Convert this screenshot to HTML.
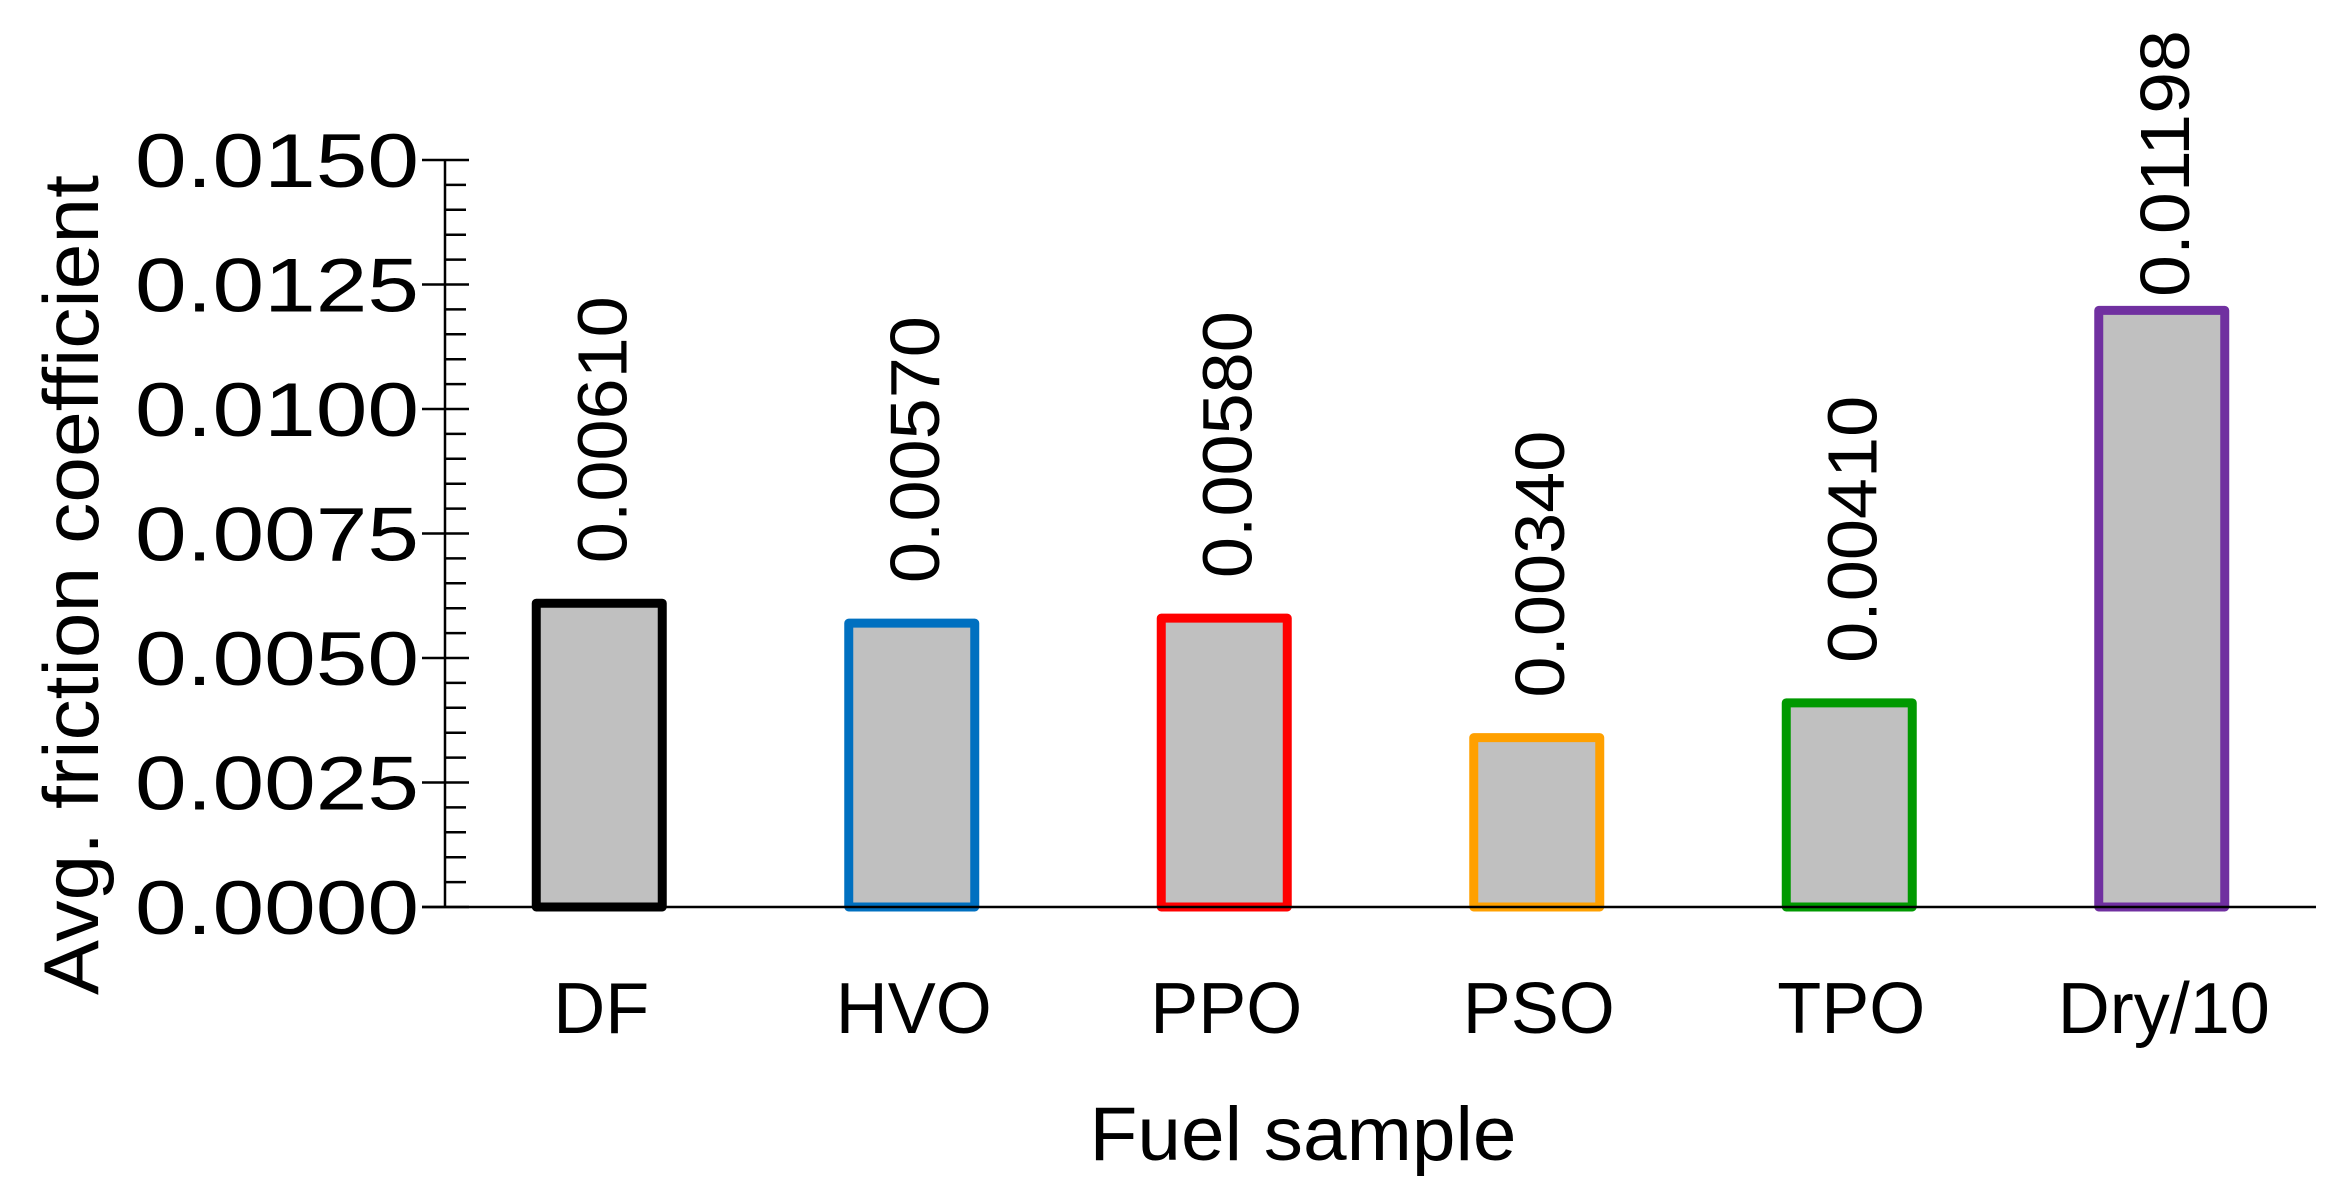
<!DOCTYPE html>
<html><head><meta charset="utf-8"><style>html,body{margin:0;padding:0;background:#fff}svg{display:block}text{font-family:"Liberation Sans",Arial,sans-serif;fill:#000}</style></head>
<body>
<svg id="chart" width="2348" height="1189" viewBox="0 0 2348 1189" xmlns="http://www.w3.org/2000/svg">
<g id="axes"></g><g id="bars"></g>
<text x="1303" y="1160" font-size="76" text-anchor="middle" textLength="427" lengthAdjust="spacingAndGlyphs">Fuel sample</text>
<text transform="translate(98,585) rotate(-90)" font-size="78" text-anchor="middle" textLength="820" lengthAdjust="spacingAndGlyphs">Avg. friction coefficient</text>
</svg>
<script>
const categories = ["DF","HVO","PPO","PSO","TPO","Dry/10"];
const values = [0.0061,0.0057,0.0058,0.0034,0.0041,0.01198];
const valueLabels = ["0.00610","0.00570","0.00580","0.00340","0.00410","0.01198"];
const colors = ["#000000","#0070C0","#FF0000","#FFA000","#009900","#7030A0"];
const yTicks = [0,0.0025,0.005,0.0075,0.01,0.0125,0.015];
const yTickLabels = ["0.0000","0.0025","0.0050","0.0075","0.0100","0.0125","0.0150"];
const NS="http://www.w3.org/2000/svg";
const x0=443, band=312.5, yBase=907, yTop=160, yMax=0.015, barW=126;
const y=v=>yBase-(v/yMax)*(yBase-yTop);
const xc=i=>x0+band*(i+0.5);
function mk(t,a,p){const e=document.createElementNS(NS,t);for(const k in a)e.setAttribute(k,a[k]);p.appendChild(e);return e;}
const ax=document.getElementById('axes'), bg=document.getElementById('bars');
let e=mk('line',{x1:445,y1:yTop,x2:445,y2:yBase,stroke:'#000','stroke-width':2.5},ax);


for(let v=0;v<=yMax+1e-9;v+=0.0005){
  const isMaj=Math.abs(v/0.0025-Math.round(v/0.0025))<1e-6;
  const m=mk('line',{x1:isMaj?422:446,x2:isMaj?469:466,y1:y(v),y2:y(v),stroke:'#000','stroke-width':2.5},ax);
  
  
}
yTicks.forEach((v,i)=>{
  const t=mk('text',{x:419,y:y(v)+27,'font-size':76,'text-anchor':'end',textLength:284,lengthAdjust:'spacingAndGlyphs'},ax);t.textContent=yTickLabels[i];
  
  
});
categories.forEach((c,i)=>{
  const r=mk('rect',{x:xc(i)-barW/2,y:y(values[i]),width:barW,height:yBase-y(values[i]),fill:'#C0C0C0',stroke:colors[i],'stroke-width':9,'stroke-linejoin':'round'},bg);
  
  
  const ly=Math.max(y(values[i])-40, 30+267);
  const vl=mk('text',{transform:`translate(${xc(i)+27},${ly}) rotate(-90)`,'font-size':70,textLength:267,lengthAdjust:'spacingAndGlyphs'},bg);vl.textContent=valueLabels[i];
  
  
  const cl=mk('text',{x:xc(i)+2,y:1033,'font-size':72,'text-anchor':'middle'},bg);cl.textContent=c;
  
  
});
e=mk('line',{x1:422,y1:yBase,x2:2316,y2:yBase,stroke:'#000','stroke-width':2.5},bg);


</script>
</body></html>
